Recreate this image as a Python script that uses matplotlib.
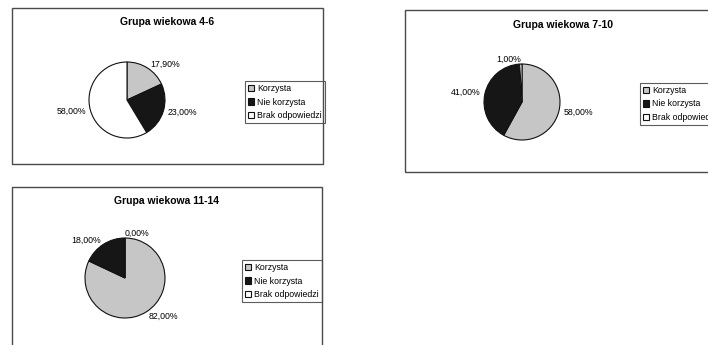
import matplotlib
matplotlib.use('Agg')
import matplotlib.pyplot as plt
from matplotlib.patches import Rectangle

plt.rcParams['font.family'] = ['Liberation Sans', 'DejaVu Sans']

#Dane z wykresow
kategorie = ['Korzysta', 'Nie korzysta', 'Brak odpowiedzi']
tytuly = ['Grupa wiekowa 4-6', 'Grupa wiekowa 7-10', 'Grupa wiekowa 11-14']
grupa_4_6 = [17.9, 23.0, 58.0]
grupa_7_10 = [58.0, 41.0, 1.0]
grupa_11_14 = [82.0, 18.0, 0.0]
kolory = ['#c6c6c6', '#161616', '#ffffff']

W, H = 708, 345
fig = plt.figure(figsize=(W/100, H/100), dpi=100)
fig.patch.set_facecolor('white')

def fx(x): return x / W
def fy(y): return 1 - y / H

#Ramki paneli (piksele: lewo, gora, prawo, dol)
ramki = [(12, 8, 323, 164), (405, 10, 715, 172), (12, 187, 322, 360)]
#Srodek kola, promien, pozycja tytulu, legenda (lewo, srodek y)
ustawienia = [
    dict(c=(127, 100), r=38, t=(167, 22), leg=(245, 102)),
    dict(c=(522, 102), r=38, t=(563, 25), leg=(640, 104)),
    dict(c=(125, 278), r=40, t=(167, 201), leg=(242, 281)),
]
dane = [grupa_4_6, grupa_7_10, grupa_11_14]

for ramka, u, vals, tytul in zip(ramki, ustawienia, dane, tytuly):
    x0, y0, x1, y1 = ramka
    fig.patches.append(Rectangle((fx(x0), fy(y1)), fx(x1 - x0), (y1 - y0) / H,
                                 transform=fig.transFigure, fill=False,
                                 edgecolor='#4a4a4a', lw=1.0))
    fig.text(fx(u['t'][0]), fy(u['t'][1]), tytul, ha='center', va='center',
             fontsize=7.5, fontweight='bold')

    cx, cy = u['c']
    r = u['r']
    k = 1.5
    ax = fig.add_axes([fx(cx - k*r), fy(cy + k*r), fx(2*k*r), 2*k*r/H])
    etykiety = [('%.2f%%' % v).replace('.', ',') for v in vals]
    wedges, teksty = ax.pie(vals, labels=etykiety, colors=kolory, startangle=90,
                            counterclock=False, labeldistance=1.12,
                            wedgeprops=dict(edgecolor='#111111', linewidth=0.8),
                            textprops=dict(fontsize=6.3))
    ax.set_xlim(-k, k)
    ax.set_ylim(-k, k)
    ax.set_aspect('equal')
    ax.axis('off')

    lx, ly = u['leg']
    leg = ax.legend(wedges, kategorie, loc='center left',
                    bbox_to_anchor=(fx(lx), fy(ly)), bbox_transform=fig.transFigure,
                    fontsize=6.3, frameon=True, fancybox=False, handlelength=0.7,
                    handleheight=0.7, handletextpad=0.3, labelspacing=0.55,
                    borderpad=0.35, borderaxespad=0)
    leg.get_frame().set_edgecolor('#333333')
    leg.get_frame().set_linewidth(0.8)

plt.savefig('out.png', dpi=100)
plt.close()
